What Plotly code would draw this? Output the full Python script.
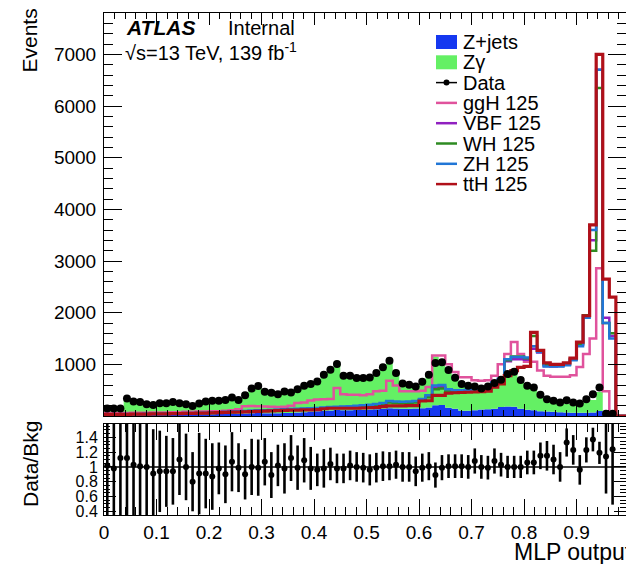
import numpy as np
import plotly.graph_objects as go

# ---------------- data ----------------
n_bins = 80
x_lo, x_hi = 0.0, 1.0

data_events = [143, 143, 143, 338, 280, 273, 228, 215, 247, 247,
               273, 247, 228, 195, 241, 280, 293, 293, 312, 358,
               312, 403, 533, 579, 468, 449, 423, 474, 455, 520,
               585, 617, 669, 799, 897, 1008, 780, 780, 734, 734,
               747, 832, 943, 1070, 832, 630, 604, 572, 663, 799,
               1027, 1040, 890, 740, 618, 585, 572, 533, 572, 637,
               702, 812, 858, 695, 585, 552, 410, 325, 293, 260,
               306, 260, 241, 325, 423, 552, 45, 45, None, None]

zjets = [15, 15, 15, 20, 20, 20, 20, 20, 20, 25,
         25, 25, 30, 30, 30, 35, 35, 40, 40, 45,
         45, 50, 55, 60, 55, 55, 55, 60, 60, 70,
         75, 85, 90, 100, 105, 115, 110, 110, 115, 120,
         125, 130, 140, 150, 145, 140, 140, 145, 150, 165,
         210, 215, 160, 140, 100, 100, 110, 125, 130, 140,
         175, 185, 180, 140, 120, 110, 90, 85, 80, 75,
         70, 65, 65, 65, 70, 95, 15, 10, 0, 0]

zgamma = [125, 131, 113, 282, 252, 250, 208, 216, 243, 238,
          265, 200, 198, 214, 235, 273, 302, 259, 307, 290,
          270, 398, 478, 525, 382, 449, 360, 424, 346, 455,
          462, 545, 607, 715, 757, 914, 686, 655, 619, 621,
          653, 710, 794, 909, 663, 490, 464, 464, 520, 626,
          944, 835, 721, 593, 512, 485, 420, 408, 448, 450,
          507, 627, 678, 555, 432, 411, 267, 198, 186, 185,
          160, 146, 186, 199, 239, 369, 25, 26, 0, 0]

ggH = [60, 60, 60, 60, 65, 65, 65, 70, 70, 70,
       75, 75, 80, 80, 85, 85, 90, 90, 100, 110,
       130, 190, 195, 190, 185, 180, 175, 180, 200, 250,
       260, 300, 320, 325, 330, 540, 420, 410, 410, 400,
       420, 480, 490, 680, 590, 480, 480, 480, 490, 560,
       1170, 1170, 1000, 850, 750, 750, 690, 680, 690, 780,
       1000, 1200, 1430, 1200, 1050, 1050, 880, 780, 760, 760,
       760, 790, 950, 1200, 1500, 2860, 480, 0, 0, 0]

VBF = [30, 30, 30, 35, 35, 35, 40, 40, 40, 45,
       45, 50, 50, 55, 55, 60, 65, 70, 75, 80,
       85, 90, 95, 100, 105, 110, 115, 120, 125, 130,
       135, 140, 145, 155, 165, 170, 175, 175, 190, 200,
       210, 215, 235, 275, 265, 260, 265, 275, 320, 390,
       550, 560, 500, 480, 480, 490, 500, 520, 540, 620,
       700, 1060, 1100, 1100, 1090, 1300, 1230, 970, 960, 970,
       990, 1100, 1380, 1950, 3400, 6700, 1900, 1550, 0, 0]

WH = [30, 30, 30, 30, 35, 35, 35, 40, 40, 40,
      45, 45, 50, 50, 55, 55, 60, 65, 70, 75,
      80, 85, 90, 95, 100, 105, 110, 115, 120, 125,
      130, 135, 140, 150, 160, 165, 170, 170, 180, 190,
      200, 205, 220, 260, 250, 245, 250, 260, 305, 365,
      520, 530, 480, 460, 460, 470, 480, 500, 520, 600,
      680, 1080, 1150, 1150, 1120, 1550, 1250, 990, 980, 980,
      1000, 1100, 1400, 1950, 3200, 6350, 1800, 1600, 0, 0]

ZH = [35, 35, 35, 40, 40, 40, 45, 45, 50, 50,
      55, 55, 60, 60, 65, 65, 70, 75, 80, 85,
      90, 95, 100, 105, 110, 115, 120, 130, 135, 140,
      145, 150, 155, 165, 175, 180, 185, 190, 200, 210,
      220, 230, 250, 290, 280, 275, 280, 290, 330, 400,
      590, 600, 520, 500, 500, 510, 520, 540, 560, 650,
      720, 1100, 1140, 1140, 1130, 1350, 1240, 960, 960, 960,
      980, 1080, 1350, 1900, 3600, 6700, 1800, 1500, 0, 0]

ttH = [30, 30, 30, 30, 35, 35, 35, 40, 40, 40,
       45, 45, 50, 50, 55, 55, 60, 65, 70, 75,
       75, 80, 85, 90, 95, 100, 105, 110, 112, 115,
       118, 120, 125, 140, 150, 150, 150, 150, 150, 155,
       160, 165, 180, 195, 195, 195, 200, 200, 290, 295,
       400, 400, 440, 450, 455, 460, 465, 470, 480, 560,
       620, 780, 880, 940, 960, 1620, 1270, 1030, 1000, 1000,
       1030, 1120, 1430, 1940, 3700, 7000, 2650, 2300, 0, 0]

ratio = [1.02, 0.98, 1.12, 1.12, 1.03, 1.01, 1.00, 0.91, 0.94, 0.94,
         0.94, 1.10, 1.00, 0.80, 0.91, 0.91, 0.87, 0.98, 0.90, 1.07,
         0.99, 0.90, 1.00, 0.99, 1.07, 0.89, 1.02, 0.98, 1.12, 0.99,
         1.09, 0.98, 0.96, 0.98, 1.04, 0.98, 0.98, 1.02, 1.00, 0.99,
         0.96, 0.99, 1.01, 1.01, 1.03, 1.00, 1.00, 0.94, 0.99, 1.01,
         0.89, 0.99, 1.01, 1.01, 1.01, 1.00, 1.08, 1.00, 0.99, 1.08,
         1.03, 1.00, 1.00, 1.00, 1.06, 1.06, 1.15, 1.15, 1.10, 1.00,
         1.33, 1.23, 0.96, 1.23, 1.37, 1.19, 1.14, 1.24, None, None]

ratio_err = [0.9, 0.9, 0.85, 0.85, 0.8, 0.7, 0.68, 0.6, 0.55, 0.48,
             0.45, 0.48, 0.45, 0.4, 0.55, 0.47, 0.45, 0.35, 0.39, 0.4,
             0.33, 0.34, 0.38, 0.38, 0.32, 0.31, 0.28, 0.34, 0.31, 0.3,
             0.3, 0.29, 0.22, 0.26, 0.22, 0.2, 0.2, 0.2, 0.2, 0.2,
             0.21, 0.2, 0.2, 0.19, 0.19, 0.2, 0.2, 0.2, 0.19, 0.19,
             0.17, 0.17, 0.16, 0.16, 0.16, 0.16, 0.17, 0.16, 0.16, 0.17,
             0.16, 0.15, 0.15, 0.15, 0.16, 0.16, 0.18, 0.2, 0.2, 0.2,
             0.19, 0.2, 0.2, 0.17, 0.16, 0.15, 0.5, 0.75, None, None]

main_yticks = [1000, 2000, 3000, 4000, 5000, 6000, 7000]
ratio_yticks = [0.4, 0.6, 0.8, 1.0, 1.2, 1.4]
ratio_ytext = ["0.4", "0.6", "0.8", "1", "1.2", "1.4"]

legend_entries = [("Z+jets", "box", "#1538f0"),
                  ("Z\u03b3", "box", "#64f064"),
                  ("Data", "data", "black"),
                  ("ggH 125", "line", "#e0529c"),
                  ("VBF 125", "line", "#9020c0"),
                  ("WH 125", "line", "#2e8b22"),
                  ("ZH 125", "line", "#2176d6"),
                  ("ttH 125", "line", "#b01019")]

for arr in (data_events, zjets, zgamma, ggH, VBF, WH, ZH, ttH, ratio, ratio_err):
    assert len(arr) == n_bins

# ---------------- geometry ----------------
W, H = 626, 564
ML, MR, MT, MB = 104, 0, 13, 49
PW, PH = W - ML - MR, H - MT - MB
FONT = "Liberation Sans, Arial, Helvetica, sans-serif"


def px(xp):
    return (xp - ML) / PW


def py(yp):
    return (H - MB - yp) / PH


edges = np.linspace(x_lo, x_hi, n_bins + 1)
centers = 0.5 * (edges[:-1] + edges[1:])


def step_y(vals):
    v = [0 if a is None else a for a in vals]
    return v + [v[-1]]


fig = go.Figure()

# stacked backgrounds
zj = np.array(zjets, dtype=float)
zg = np.array(zgamma, dtype=float)
fig.add_trace(go.Scatter(x=edges, y=step_y(list(zj)), mode="lines", line_shape="hv",
                         line=dict(width=0, color="#1538f0"), fill="tozeroy",
                         fillcolor="#1538f0", xaxis="x", yaxis="y", hoverinfo="skip"))
fig.add_trace(go.Scatter(x=edges, y=step_y(list(zj + zg)), mode="lines", line_shape="hv",
                         line=dict(width=0, color="#64f064"), fill="tonexty",
                         fillcolor="#64f064", xaxis="x", yaxis="y", hoverinfo="skip"))

# signal outlines
for vals, (name, _, col), lw in [(ggH, legend_entries[3], 2.5), (VBF, legend_entries[4], 2.5),
                                 (WH, legend_entries[5], 2.5), (ZH, legend_entries[6], 2.5),
                                 (ttH, legend_entries[7], 3.2)]:
    fig.add_trace(go.Scatter(x=edges, y=step_y(vals), mode="lines", line_shape="hv",
                             line=dict(width=lw, color=col), name=name,
                             xaxis="x", yaxis="y"))

# data
fig.add_trace(go.Scatter(x=centers, y=data_events, mode="markers",
                         marker=dict(size=8, color="black"), name="Data",
                         xaxis="x", yaxis="y"))

# ratio
fig.add_trace(go.Scatter(x=centers, y=ratio, mode="markers",
                         marker=dict(size=6, color="black"),
                         error_y=dict(type="data", array=[0 if e is None else e for e in ratio_err],
                                      color="black", thickness=2.6, width=0),
                         xaxis="x2", yaxis="y2"))

x_max = (W - ML) / 525.0  # plot area cut at the window edge

common_x = dict(range=[x_lo, x_max], showline=True, linecolor="black", linewidth=1,
                mirror="ticks", showgrid=False, zeroline=False, tickcolor="black",
                dtick=0.1, tick0=0, ticks="inside", tickwidth=1)

fig.update_layout(
    width=W, height=H, margin=dict(l=ML, r=MR, t=MT, b=MB),
    paper_bgcolor="white", plot_bgcolor="white", showlegend=False,
    font=dict(family=FONT, color="black", size=19),
    xaxis=dict(**common_x, domain=[0, 1], anchor="y", ticklen=12,
               minor=dict(ticks="inside", ticklen=6, dtick=0.02, tick0=0, tickcolor="black"),
               showticklabels=False),
    yaxis=dict(domain=[py(416), 1], anchor="x", range=[0, 7800], tickvals=main_yticks,
               tickformat="d", showline=True, linecolor="black", linewidth=1, mirror="ticks",
               showgrid=False, zeroline=False, ticks="inside", ticklen=18, tickwidth=1,
               tickcolor="black", ticklabelstandoff=3,
               minor=dict(ticks="inside", ticklen=9, dtick=200, tick0=0, tickcolor="black"),
               tickfont=dict(size=19)),
    xaxis2=dict(**common_x, domain=[0, 1], anchor="y2", ticklen=16,
                minor=dict(ticks="inside", ticklen=8, dtick=0.02, tick0=0, tickcolor="black"),
                showticklabels=True, tickfont=dict(size=19), ticklabelstandoff=0),
    yaxis2=dict(domain=[0, py(424)], anchor="x2", range=[0.35, 1.58], tickvals=ratio_yticks,
                ticktext=ratio_ytext, showline=True, linecolor="black", linewidth=1,
                mirror="ticks", showgrid=False, zeroline=False, ticks="inside", ticklen=12,
                tickwidth=1, tickcolor="black", ticklabelstandoff=2,
                minor=dict(ticks="inside", ticklen=6, dtick=0.05, tick0=0, tickcolor="black"),
                tickfont=dict(size=16)),
)

# unity line in ratio
fig.add_shape(type="line", xref="x2", yref="y2", x0=x_lo, x1=x_hi, y0=1, y1=1,
              line=dict(color="black", width=1.5), layer="below")

ann = []
ann.append(dict(text="<b><i>ATLAS</i></b>", x=px(124), y=py(28), xanchor="left", yanchor="middle",
                font=dict(size=21)))
ann.append(dict(text="Internal", x=px(226), y=py(28), xanchor="left", yanchor="middle",
                font=dict(size=20)))
ann.append(dict(text="\u221as=13 TeV, 139 fb<sup>-1</sup>", x=px(123), y=py(51),
                xanchor="left", yanchor="middle", font=dict(size=20)))
ann.append(dict(text="Events", x=px(29.5), y=py(41), xanchor="center", yanchor="middle",
                textangle=-90, font=dict(size=21)))
ann.append(dict(text="Data/Bkg", x=px(30), y=py(464), xanchor="center", yanchor="middle",
                textangle=-90, font=dict(size=21)))
ann.append(dict(text="MLP output", x=px(512), y=py(552), xanchor="left", yanchor="middle",
                font=dict(size=23)))

# legend (manual, ROOT style)
row0, drow = 42.0, 20.3
for i, (lab, kind, col) in enumerate(legend_entries):
    yc = row0 + i * drow
    if kind == "box":
        fig.add_shape(type="rect", xref="paper", yref="paper", x0=px(436), x1=px(457),
                      y0=py(yc + 7), y1=py(yc - 7), fillcolor=col, line=dict(width=0))
    elif kind == "line":
        fig.add_shape(type="line", xref="paper", yref="paper", x0=px(436), x1=px(457),
                      y0=py(yc), y1=py(yc), line=dict(color=col, width=2.5))
    else:
        fig.add_shape(type="line", xref="paper", yref="paper", x0=px(436), x1=px(457),
                      y0=py(yc), y1=py(yc), line=dict(color=col, width=1.5))
        fig.add_shape(type="circle", xref="paper", yref="paper", x0=px(443.5), x1=px(449.5),
                      y0=py(yc + 3), y1=py(yc - 3), fillcolor="black", line=dict(width=0))
    ann.append(dict(text=lab, x=px(461), y=py(yc), xanchor="left", yanchor="middle",
                    font=dict(size=20)))

for a in ann:
    a.update(xref="paper", yref="paper", showarrow=False)
fig.update_layout(annotations=ann)

fig.write_html("out.html")
